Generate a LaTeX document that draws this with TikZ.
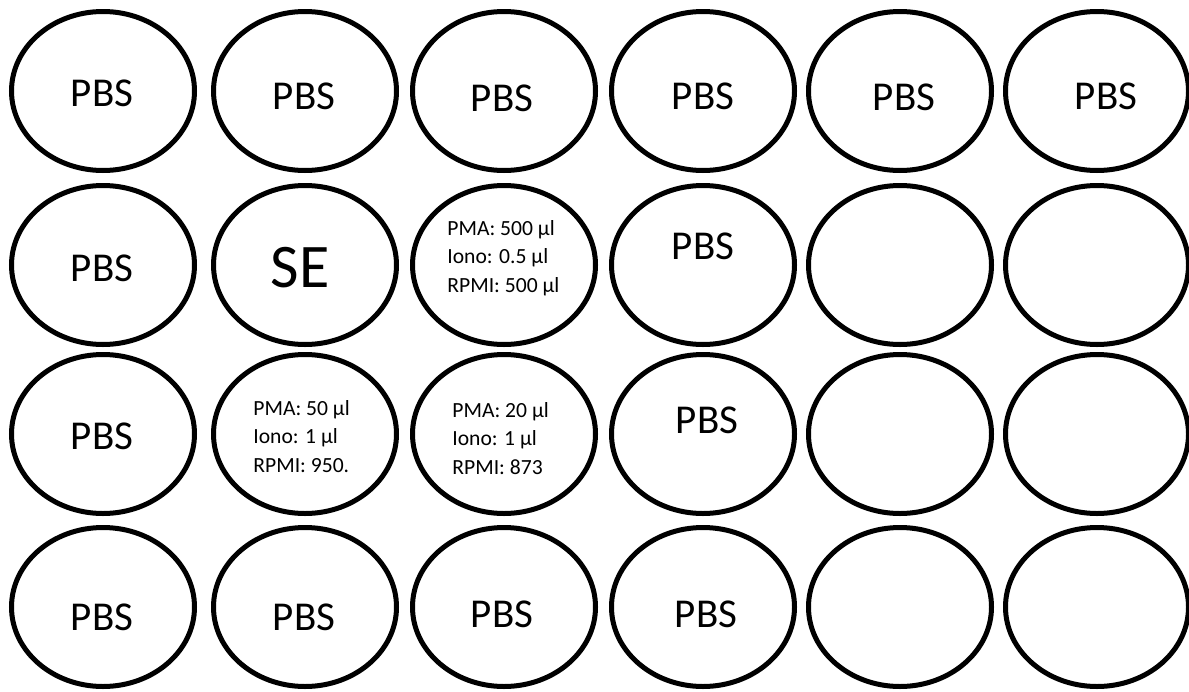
\documentclass[tikz,border=0pt]{standalone}
\usepackage{fontspec}
\setmainfont{Carlito}
\usepackage{tikz}
\usetikzlibrary{shapes.geometric}
\tikzset{
  well/.style={ellipse,draw=black,line width=2.5pt,inner sep=0pt,minimum width=91.5pt,minimum height=79.5pt},
  well label/.style={inner sep=0pt,text=black,font=\fontsize{20.5}{24}\selectfont},
  well big/.style={inner sep=0pt,text=black,font=\fontsize{31}{36}\selectfont},
  well mix/.style={inner sep=0pt,text=black,align=left,anchor=base west,font=\fontsize{10.8}{14.25}\selectfont}
}
\begin{document}
\begin{tikzpicture}[x=.5pt,y=-.5pt]
        \useasboundingbox (0,0) rectangle (1189,691);
        % plate wells
        \foreach \c/\x in {1/103,2/305,3/504,4/703,5/900,6/1097}
          \foreach \r/\y in {1/91,2/265,3/434,4/607}
            \node[well] (w\r\c) at (\x,\y) {};
        % row 1
        \node[well label] (t11) at (102,93) {PBS};
        \node[well label] (t12) at (304,96) {PBS};
        \node[well label] (t13) at (502,98) {PBS};
        \node[well label] (t14) at (703,96) {PBS};
        \node[well label] (t15) at (904,97) {PBS};
        \node[well label] (t16) at (1106,96) {PBS};
        % row 2
        \node[well label] (t21) at (102,268) {PBS};
        \node[well big] (t22) at (300,268) {SE};
        \node[well mix] (t23) at (447,292) {PMA: 500 µl\\Iono: 0.5 µl\\RPMI: 500 µl};
        \node[well label] (t24) at (703,246) {PBS};
        % row 3
        \node[well label] (t31) at (102,436) {PBS};
        \node[well mix] (t32) at (253,472) {PMA: 50 µl\\Iono: 1 µl\\RPMI: 950.};
        \node[well mix] (t33) at (452,474) {PMA: 20 µl\\Iono: 1 µl\\RPMI: 873};
        \node[well label] (t34) at (707,420) {PBS};
        % row 4
        \node[well label] (t41) at (102,617) {PBS};
        \node[well label] (t42) at (304,617) {PBS};
        \node[well label] (t43) at (502,614) {PBS};
        \node[well label] (t44) at (706,614) {PBS};
      \end{tikzpicture}
\end{document}
